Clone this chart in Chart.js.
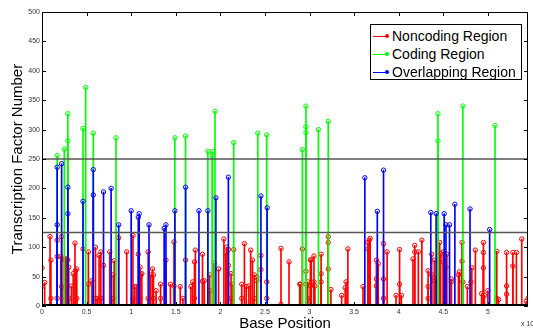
<!DOCTYPE html>
<html><head><meta charset="utf-8">
<script src="https://cdn.jsdelivr.net/npm/chart.js@4.4.1/dist/chart.umd.min.js"></script>
<style>
html,body{margin:0;padding:0;background:#fff;}
#wrap{position:relative;width:533px;height:333px;overflow:hidden;font-family:"Liberation Sans",Arial,sans-serif;}
#legend{position:absolute;left:370px;top:24px;width:152px;height:56px;border:1px solid #000;background:#fff;box-sizing:border-box;}
.item{position:absolute;left:2px;height:18px;line-height:18px;font-size:14px;color:#000;white-space:nowrap;}
.item .ln{display:inline-block;position:relative;width:16px;height:1px;vertical-align:middle;margin-right:3px;top:-1px;}
.item .ln i{position:absolute;right:0;top:-1.5px;width:4px;height:4px;border-radius:50%;}
#xexp{position:absolute;left:521px;top:320px;font-size:7px;color:#333;white-space:nowrap;}
</style></head>
<body><div id="wrap"><canvas id="c" width="533" height="333"></canvas>
<div id="legend">
 <div class="item" style="top:2px"><span class="ln" style="background:#ff0000"><i style="background:#ff0000"></i></span>Noncoding Region</div>
 <div class="item" style="top:20px"><span class="ln" style="background:#00ff00"><i style="background:#00ff00"></i></span>Coding Region</div>
 <div class="item" style="top:38px"><span class="ln" style="background:#0000ff"><i style="background:#0000ff"></i></span>Overlapping Region</div>
</div>
<div id="xexp">x 10</div>
</div>
<script>
// Base positions in units of 10^4
const codingPos = [0.17,0.25,0.29,0.29,0.46,0.49,0.575,0.83,1.49,1.61,1.86,1.91,1.91,1.94,2.15,2.42,2.52,2.92,2.96,2.96,2.96,3.10,3.21,4.44,4.44,4.72,5.08];
const codingVal = [256,267,327,281,302,372,294,286,286,289,263,263,256,331,278,294,291,266,340,305,295,300,314,327,281,340,307];

const overlapPos = [0.17,0.17,0.22,0.29,0.29,0.46,0.575,0.575,0.69,0.775,0.86,1.00,1.08,1.09,1.20,1.37,1.39,1.49,1.61,1.76,1.86,1.95,2.09,2.455,2.525,3.62,3.76,3.83,4.36,4.42,4.51,4.53,4.57,4.63,4.80,5.02];
const overlapVal = [236,138,242,202,157,178,232,189,194,200,138,162,151,157,138,132,138,162,202,162,162,184,219,187,167,218,161,231,159,157,157,138,138,173,165,130];

const noncodingPos = [0.00,0.00,0.03,0.09,0.10,0.10,0.17,0.17,0.17,0.21,0.22,0.22,0.25,0.26,0.27,0.27,0.28,0.29,0.30,0.30,0.33,0.35,0.37,0.375,0.39,0.39,0.46,0.52,0.52,0.56,0.60,0.60,0.62,0.64,0.66,0.66,0.69,0.76,0.80,0.80,0.81,0.86,
 0.95,1.02,1.02,1.04,1.06,1.08,1.10,1.10,1.11,1.12,1.19,1.19,1.22,1.24,1.25,1.25,1.28,1.33,1.33,1.39,1.44,1.48,1.48,1.55,1.58,1.61,1.67,1.69,1.71,1.71,1.72,1.80,1.80,
 1.82,1.88,1.88,1.93,1.98,2.04,2.06,2.07,2.09,2.09,2.12,2.12,2.13,2.15,2.24,2.24,2.27,2.29,2.32,2.34,2.36,2.38,2.38,2.41,2.41,2.455,2.455,2.52,2.52,2.68,2.68,
 2.77,2.89,2.90,2.92,2.96,2.96,2.98,2.98,3.01,3.01,3.02,3.05,3.05,3.06,3.13,3.13,3.13,3.21,3.21,3.21,3.24,3.36,3.40,3.41,3.43,3.60,3.655,3.655,3.67,3.68,
 3.75,3.75,3.75,3.77,3.83,3.83,3.83,3.87,3.97,4.01,4.01,4.03,4.16,4.18,4.18,4.22,4.26,4.33,4.33,4.33,4.37,4.37,4.40,4.40,4.42,4.46,4.46,4.47,4.50,4.50,4.53,4.54,
 4.59,4.59,4.67,4.68,4.71,4.71,4.72,4.77,4.81,4.82,4.86,4.93,4.95,4.95,4.95,4.96,5.00,5.10,5.10,5.12,5.21,5.21,5.21,5.28,5.28,5.32,5.38,5.43,5.45];
const noncodingVal = [65,33,40,118,78,13,112,84,13,84,118,33,79,80,78,13,80,78,66,13,34,55,107,60,63,13,97,92,37,43,100,13,13,86,92,13,69,92,53,13,77,116,
 92,120,13,33,33,88,66,13,53,55,92,13,53,63,53,13,26,37,13,78,37,109,34,33,13,78,33,41,75,13,95,88,42,
 43,53,26,73,63,114,90,100,96,69,55,13,37,96,37,13,106,33,34,95,78,53,13,49,43,86,62,41,13,98,3,
 75,37,37,97,59,37,41,13,78,34,79,85,41,34,88,55,41,118,108,63,28,18,31,41,97,33,97,108,112,115,
 78,46,34,72,106,46,13,92,18,37,96,18,80,103,92,92,112,60,33,13,88,53,78,43,46,108,84,89,92,75,66,88,
 46,41,53,58,108,76,41,33,41,65,95,21,108,91,65,18,26,93,13,11,91,34,20,91,68,91,114,8,13];

const xTickStep = 0.5, yTickStep = 50;
const xMax = 5.45, yMax = 500;
const thresholds = [125, 250];

const pts = (p, v) => p.map((x, i) => ({x: x, y: v[i]}));
const RED = '#ff0000', GREEN = '#00ff00', BLUE = '#0000ff';

function stems(p, v, col, order) {
  return {type: 'bar', data: pts(p, v), backgroundColor: col, borderWidth: 0, barThickness: 1, grouped: false, order: order};
}
function marks(p, v, col, order) {
  return {type: 'line', data: pts(p, v), showLine: false, pointStyle: 'circle', pointRadius: 2.2, pointBorderWidth: 1,
    pointBorderColor: col, pointBackgroundColor: 'rgba(255,255,255,0)', borderColor: col, order: order};
}
const lineSets = thresholds.map(t => ({type: 'line', data: [{x: 0, y: t}, {x: xMax, y: t}], borderColor: '#555', borderWidth: 1.5, pointRadius: 0, order: 0}));

const frame = {
  id: 'frame',
  afterDatasetsDraw(chart) {
    const {ctx, chartArea: a, scales: {x, y}} = chart;
    ctx.save();
    ctx.strokeStyle = '#000';
    ctx.lineWidth = 1;
    ctx.strokeRect(a.left + 0.5, a.top + 0.5, a.right - a.left - 1, a.bottom - a.top - 1);
    ctx.beginPath();
    x.ticks.forEach(t => {
      const px = Math.round(x.getPixelForValue(t.value)) + 0.5;
      ctx.moveTo(px, a.bottom); ctx.lineTo(px, a.bottom - 4);
      ctx.moveTo(px, a.top); ctx.lineTo(px, a.top + 4);
    });
    y.ticks.forEach(t => {
      const py = Math.round(y.getPixelForValue(t.value)) + 0.5;
      ctx.moveTo(a.left, py); ctx.lineTo(a.left + 4, py);
      ctx.moveTo(a.right, py); ctx.lineTo(a.right - 4, py);
    });
    ctx.stroke();
    ctx.lineWidth = 2;
    ctx.beginPath();
    const y0 = y.getPixelForValue(0) - 1;
    ctx.moveTo(a.left, y0); ctx.lineTo(a.right, y0);
    ctx.stroke();
    ctx.restore();
  }
};

new Chart(document.getElementById('c'), {
  data: {
    datasets: [
      ...lineSets,
      marks(overlapPos, overlapVal, BLUE, 1),
      stems(overlapPos, overlapVal, BLUE, 2),
      marks(codingPos, codingVal, GREEN, 3),
      stems(codingPos, codingVal, GREEN, 4),
      marks(noncodingPos, noncodingVal, RED, 5),
      stems(noncodingPos, noncodingVal, RED, 6)
    ]
  },
  options: {
    responsive: false, animation: false, devicePixelRatio: 1,
    layout: {padding: {top: 12, right: 1, left: 0, bottom: 0}},
    plugins: {legend: {display: false}, tooltip: {enabled: false}},
    scales: {
      x: {
        type: 'linear', min: 0, max: xMax, offset: false,
        grid: {display: false, drawTicks: false}, border: {display: false},
        ticks: {stepSize: xTickStep, padding: 2, color: '#333', font: {size: 7, family: 'Liberation Sans'}, maxRotation: 0,
          callback: v => String(v)},
        afterBuildTicks: s => { s.ticks = s.ticks.filter(t => Math.abs(t.value / xTickStep - Math.round(t.value / xTickStep)) < 1e-6); },
        afterFit: s => { s.height = 27; },
        title: {display: true, text: 'Base Position', color: '#000', font: {size: 15, family: 'Liberation Sans'}, padding: {top: 0, bottom: 0}}
      },
      y: {
        type: 'linear', min: 0, max: yMax,
        grid: {display: false, drawTicks: false}, border: {display: false},
        ticks: {stepSize: yTickStep, padding: 2, color: '#333', font: {size: 7, family: 'Liberation Sans'}},
        afterFit: s => { s.width = 42; },
        title: {display: true, text: 'Transcription Factor Number', color: '#000', font: {size: 15, family: 'Liberation Sans'}, padding: {top: 9, bottom: 0}}
      }
    }
  },
  plugins: [frame]
});
</script></body></html>
